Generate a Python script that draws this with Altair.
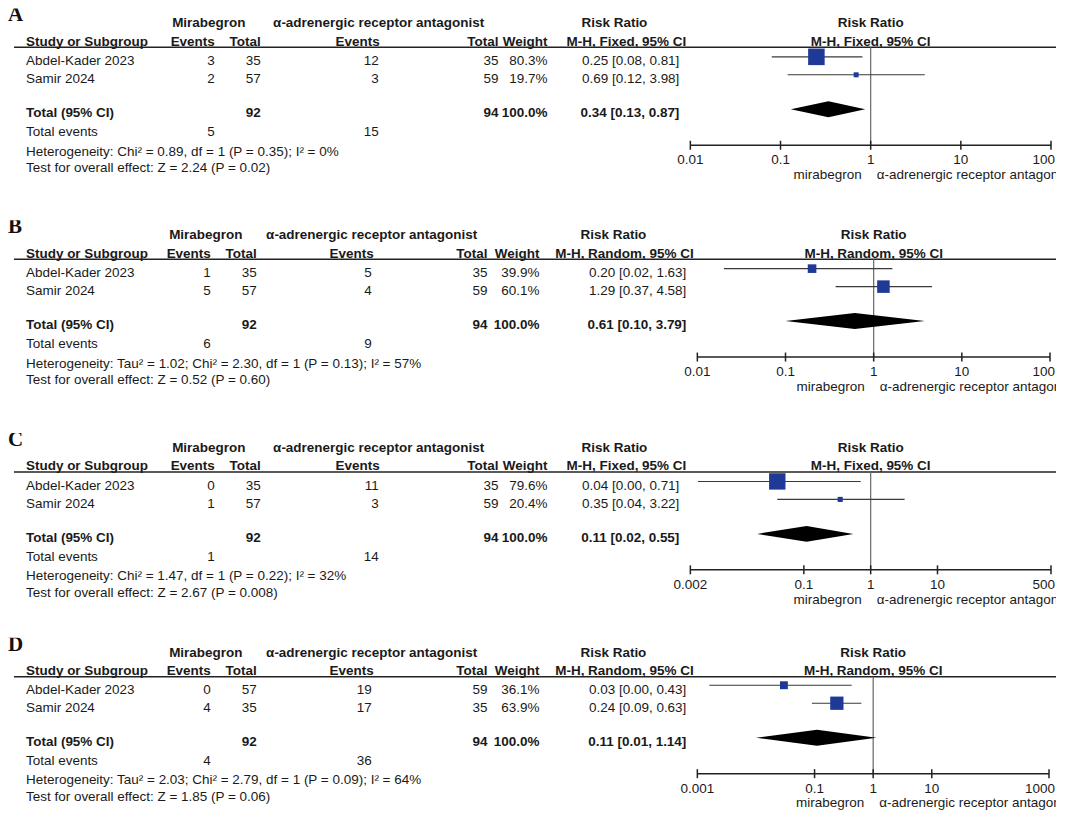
import altair as alt
import pandas as pd

# ---------------- data ----------------
studies = ["Abdel-Kader 2023", "Samir 2024"]
panel_ids = ["A", "B", "C", "D"]
model = {"A": "Fixed", "B": "Random", "C": "Fixed", "D": "Random"}

mir_events = {"A": [3, 2], "B": [1, 5], "C": [0, 1], "D": [0, 4]}
mir_total = {"A": [35, 57], "B": [35, 57], "C": [35, 57], "D": [57, 35]}
ant_events = {"A": [12, 3], "B": [5, 4], "C": [11, 3], "D": [19, 17]}
ant_total = {"A": [35, 59], "B": [35, 59], "C": [35, 59], "D": [59, 35]}
weight = {"A": [80.3, 19.7], "B": [39.9, 60.1], "C": [79.6, 20.4], "D": [36.1, 63.9]}
rr = {"A": [0.25, 0.69], "B": [0.20, 1.29], "C": [0.04, 0.35], "D": [0.03, 0.24]}
rr_low = {"A": [0.08, 0.12], "B": [0.02, 0.37], "C": [0.0026, 0.04], "D": [0.0016, 0.09]}
rr_high = {"A": [0.81, 3.98], "B": [1.63, 4.58], "C": [0.71, 3.22], "D": [0.43, 0.63]}

sum_mir_total = {"A": 92, "B": 92, "C": 92, "D": 92}
sum_ant_total = {"A": 94, "B": 94, "C": 94, "D": 94}
pooled_rr = {"A": 0.34, "B": 0.61, "C": 0.11, "D": 0.11}
pooled_low = {"A": 0.13, "B": 0.10, "C": 0.02, "D": 0.01}
pooled_high = {"A": 0.87, "B": 3.79, "C": 0.55, "D": 1.14}
tot_ev_mir = {"A": 5, "B": 6, "C": 1, "D": 4}
tot_ev_ant = {"A": 15, "B": 9, "C": 14, "D": 36}
heterogeneity = {
    "A": "Heterogeneity: Chi² = 0.89, df = 1 (P = 0.35); I² = 0%",
    "B": "Heterogeneity: Tau² = 1.02; Chi² = 2.30, df = 1 (P = 0.13); I² = 57%",
    "C": "Heterogeneity: Chi² = 1.47, df = 1 (P = 0.22); I² = 32%",
    "D": "Heterogeneity: Tau² = 2.03; Chi² = 2.79, df = 1 (P = 0.09); I² = 64%",
}
overall = {
    "A": "Test for overall effect: Z = 2.24 (P = 0.02)",
    "B": "Test for overall effect: Z = 0.52 (P = 0.60)",
    "C": "Test for overall effect: Z = 2.67 (P = 0.008)",
    "D": "Test for overall effect: Z = 1.85 (P = 0.06)",
}
axis_ticks = {
    "A": [0.01, 0.1, 1, 10, 100],
    "B": [0.01, 0.1, 1, 10, 100],
    "C": [0.002, 0.1, 1, 10, 500],
    "D": [0.001, 0.1, 1, 10, 1000],
}
tick_labels = {
    "A": ["0.01", "0.1", "1", "10", "100"],
    "B": ["0.01", "0.1", "1", "10", "100"],
    "C": ["0.002", "0.1", "1", "10", "500"],
    "D": ["0.001", "0.1", "1", "10", "1000"],
}
group1 = "Mirabegron"
group2 = "α-adrenergic receptor antagonist"
favours_left = "mirabegron"
favours_right = "α-adrenergic receptor antagonist"

# ---------------- layout ----------------
W = 1049
PANEL_H = {"A": 212, "B": 213, "C": 205, "D": 173}
Y = dict(letter=7, h1=15, h2=33.5, line=39, r1=53, r2=71, tot=105, tev=124,
         het=143.5, test=160, m1=48.5, m2=66.5, dia=101, dia_h=8, axis=137,
         tick_h=4.5, tlab=152, side=167)
SHIFT_D = -1
COLS = {
    "Fixed": dict(study=18, mir_c=201, ev1=207, tot1=253, ant_c=371, ev2_h=350,
                  ev2=371, tot2=491, wt=540, rr_h=607, mh=619, rr=672),
    "Random": dict(study=18, mir_c=198, ev1=203, tot1=249, ant_c=364, ev2_h=344,
                   ev2=364, tot2=480, wt=532, rr_h=606, mh=617, rr=679),
}
FOREST_RANGE = {"A": [683, 1044], "B": [690, 1043], "C": [683, 1044], "D": [690, 1042]}
FONT = "Liberation Sans"
FS = 13.5
TXT = "#1a1a1a"
BLUE = "#1f3a96"


def fmt_ci(v, lo, hi):
    return f"{v:.2f} [{lo:.2f}, {hi:.2f}]"


def text_layers(df, xs, ys, **kw):
    layers = []
    for align in ["left", "center", "right"]:
        for bold in [False, True]:
            sub = df[(df["align"] == align) & (df["bold"] == bold)]
            if len(sub) == 0:
                continue
            layers.append(
                alt.Chart(sub).mark_text(
                    align=align, baseline="middle", font=FONT, fontSize=FS,
                    fontWeight="bold" if bold else "normal", color=TXT, **kw
                ).encode(
                    x=alt.X("x:Q", scale=xs, axis=None),
                    y=alt.Y("y:Q", scale=ys, axis=None),
                    text="text:N",
                )
            )
    return layers


def panel(p):
    c = COLS[model[p]]
    H = PANEL_H[p]
    yy = dict(Y)
    if p == "D":
        for k in ["r1", "r2", "tot", "tev", "het", "test", "m1", "m2", "dia", "axis", "tlab", "side"]:
            yy[k] = Y[k] + SHIFT_D
        yy["side"] = Y["side"] + SHIFT_D - 1
    ys = alt.Scale(domain=[0, H], reverse=True, nice=False, zero=False)
    xt = alt.Scale(domain=[0, W], nice=False, zero=False)
    ticks = axis_ticks[p]
    rng = FOREST_RANGE[p]
    fx = alt.Scale(type="log", domain=[ticks[0], ticks[-1]], range=rng, nice=False)

    rows = []

    def add(text, x, y, align, bold=False):
        rows.append(dict(text=str(text), x=x, y=y, align=align, bold=bold))

    add(group1, c["mir_c"], yy["h1"], "center", True)
    add(group2, c["ant_c"], yy["h1"], "center", True)
    add("Risk Ratio", c["rr_h"], yy["h1"], "center", True)
    add("Study or Subgroup", c["study"], yy["h2"], "left", True)
    add("Events", c["ev1"], yy["h2"], "right", True)
    add("Total", c["tot1"], yy["h2"], "right", True)
    add("Events", c["ev2_h"], yy["h2"], "center", True)
    add("Total", c["tot2"], yy["h2"], "right", True)
    add("Weight", c["wt"], yy["h2"], "right", True)
    add(f"M-H, {model[p]}, 95% CI", c["mh"], yy["h2"], "center", True)
    for i, yk in enumerate(["r1", "r2"]):
        add(studies[i], c["study"], yy[yk], "left")
        add(mir_events[p][i], c["ev1"], yy[yk], "right")
        add(mir_total[p][i], c["tot1"], yy[yk], "right")
        add(ant_events[p][i], c["ev2"], yy[yk], "right")
        add(ant_total[p][i], c["tot2"], yy[yk], "right")
        add(f"{weight[p][i]:.1f}%", c["wt"], yy[yk], "right")
        add(fmt_ci(rr[p][i], rr_low[p][i], rr_high[p][i]), c["rr"], yy[yk], "right")
    add("Total (95% CI)", c["study"], yy["tot"], "left", True)
    add(sum_mir_total[p], c["tot1"], yy["tot"], "right", True)
    add(sum_ant_total[p], c["tot2"], yy["tot"], "right", True)
    add(f"{sum(weight[p]):.1f}%", c["wt"], yy["tot"], "right", True)
    add(fmt_ci(pooled_rr[p], pooled_low[p], pooled_high[p]), c["rr"], yy["tot"], "right", True)
    add("Total events", c["study"], yy["tev"], "left")
    add(tot_ev_mir[p], c["ev1"], yy["tev"], "right")
    add(tot_ev_ant[p], c["ev2"], yy["tev"], "right")
    add(heterogeneity[p], c["study"], yy["het"], "left")
    add(overall[p], c["study"], yy["test"], "left")

    layers = text_layers(pd.DataFrame(rows), xt, ys)

    layers.append(
        alt.Chart(pd.DataFrame({"t": [p], "x": [0], "y": [yy["letter"]]})).mark_text(
            align="left", baseline="middle", font="Liberation Serif", fontSize=21,
            fontWeight="bold", color="#111", clip=True
        ).encode(x=alt.X("x:Q", scale=xt, axis=None), y=alt.Y("y:Q", scale=ys, axis=None), text="t:N")
    )
    layers.append(
        alt.Chart(pd.DataFrame({"x": [6], "x2": [W], "y": [yy["line"]]})).mark_rule(
            color="#222", strokeWidth=1.5
        ).encode(x=alt.X("x:Q", scale=xt, axis=None), x2="x2:Q", y=alt.Y("y:Q", scale=ys, axis=None))
    )

    # ---------- forest part ----------
    fh = pd.DataFrame({"t": ["Risk Ratio", f"M-H, {model[p]}, 95% CI"], "x": [1, 1], "y": [yy["h1"], yy["h2"]]})
    layers.append(
        alt.Chart(fh).mark_text(align="center", baseline="middle", font=FONT, fontSize=FS,
                                fontWeight="bold", color=TXT)
        .encode(x=alt.X("x:Q", scale=fx, axis=None), y=alt.Y("y:Q", scale=ys, axis=None), text="t:N")
    )
    layers.append(
        alt.Chart(pd.DataFrame({"x": [1], "y": [yy["line"]], "y2": [yy["axis"]]})).mark_rule(
            color="#666", strokeWidth=1.2
        ).encode(x=alt.X("x:Q", scale=fx, axis=None), y=alt.Y("y:Q", scale=ys, axis=None), y2="y2:Q")
    )
    sd = pd.DataFrame({
        "rr": rr[p], "lo": rr_low[p], "hi": rr_high[p], "w": weight[p],
        "ym": [yy["m1"], yy["m2"]],
    })
    layers.append(
        alt.Chart(sd).mark_rule(color="#3a3a3a", strokeWidth=1.1).encode(
            x=alt.X("lo:Q", scale=fx, axis=None), x2="hi:Q", y=alt.Y("ym:Q", scale=ys, axis=None)
        )
    )
    layers.append(
        alt.Chart(sd).mark_point(shape="square", filled=True, color=BLUE, opacity=1, strokeWidth=0).encode(
            x=alt.X("rr:Q", scale=fx, axis=None),
            y=alt.Y("ym:Q", scale=ys, axis=None),
            size=alt.Size("w:Q", scale=alt.Scale(type="pow", exponent=2, domain=[0, 100], range=[9, 420]), legend=None),
        )
    )
    dd = pd.DataFrame({
        "x": [pooled_low[p], pooled_rr[p], pooled_high[p]],
        "y": [yy["dia"], yy["dia"] - yy["dia_h"], yy["dia"]],
        "y2": [yy["dia"], yy["dia"] + yy["dia_h"], yy["dia"]],
    })
    layers.append(
        alt.Chart(dd).mark_area(color="#000", orient="vertical", opacity=1).encode(
            x=alt.X("x:Q", scale=fx, axis=None), y=alt.Y("y:Q", scale=ys, axis=None), y2="y2:Q"
        )
    )
    layers.append(
        alt.Chart(pd.DataFrame({"x": [ticks[0]], "x2": [ticks[-1]], "y": [yy["axis"]]})).mark_rule(
            color="#222", strokeWidth=1.5
        ).encode(x=alt.X("x:Q", scale=fx, axis=None), x2="x2:Q", y=alt.Y("y:Q", scale=ys, axis=None))
    )
    td = pd.DataFrame({"x": ticks, "lab": tick_labels[p],
                       "y": [yy["axis"] - yy["tick_h"]] * len(ticks),
                       "y2": [yy["axis"] + yy["tick_h"]] * len(ticks),
                       "yl": [yy["tlab"]] * len(ticks)})
    layers.append(
        alt.Chart(td).mark_rule(color="#222", strokeWidth=1.5).encode(
            x=alt.X("x:Q", scale=fx, axis=None), y=alt.Y("y:Q", scale=ys, axis=None), y2="y2:Q"
        )
    )
    # tick labels: all centred except the last one, kept inside the page edge
    layers.append(
        alt.Chart(td.iloc[:-1]).mark_text(align="center", baseline="middle", font=FONT, fontSize=FS, color=TXT).encode(
            x=alt.X("x:Q", scale=fx, axis=None), y=alt.Y("yl:Q", scale=ys, axis=None), text="lab:N"
        )
    )
    layers.append(
        alt.Chart(td.iloc[-1:]).mark_text(align="right", baseline="middle", font=FONT, fontSize=FS, color=TXT,
                                          dx=W - rng[1] - 1).encode(
            x=alt.X("x:Q", scale=fx, axis=None), y=alt.Y("yl:Q", scale=ys, axis=None), text="lab:N"
        )
    )
    layers.append(
        alt.Chart(pd.DataFrame({"t": [favours_left], "x": [1], "y": [yy["side"]]})).mark_text(
            align="right", baseline="middle", font=FONT, fontSize=FS, color=TXT, dx=-9
        ).encode(x=alt.X("x:Q", scale=fx, axis=None), y=alt.Y("y:Q", scale=ys, axis=None), text="t:N")
    )
    layers.append(
        alt.Chart(pd.DataFrame({"t": [favours_right], "x": [1], "y": [yy["side"]]})).mark_text(
            align="left", baseline="middle", font=FONT, fontSize=FS, color=TXT, dx=6, clip=True
        ).encode(x=alt.X("x:Q", scale=fx, axis=None), y=alt.Y("y:Q", scale=ys, axis=None), text="t:N")
    )

    return alt.layer(*layers).resolve_scale(x="independent").properties(width=W, height=H)


chart = alt.vconcat(*[panel(p) for p in panel_ids], spacing=0, bounds="flush").properties(
    padding={"left": 0, "top": 0, "right": 0, "bottom": 0}
).configure_view(strokeWidth=0)

chart.save("out.html", embed_options={"renderer": "svg", "actions": False})
